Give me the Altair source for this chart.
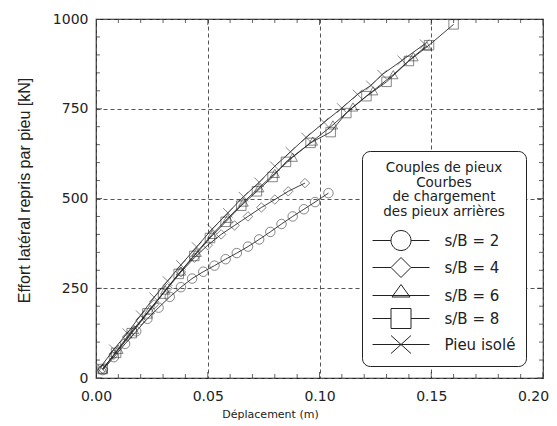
import altair as alt
import pandas as pd

series_names = ["s/B = 2", "s/B = 4", "s/B = 6", "s/B = 8", "Pieu isolé"]

# s/B = 2 (circles)
x_sb2 = [0.003, 0.008, 0.013, 0.018, 0.023, 0.028, 0.033, 0.038, 0.043, 0.048, 0.053,
         0.058, 0.063, 0.068, 0.073, 0.078, 0.083, 0.088, 0.093, 0.098, 0.104]
F_sb2 = [22, 58, 95, 130, 165, 196, 226, 253, 277, 296, 313,
         331, 348, 366, 386, 407, 429, 450, 470, 490, 515]

# s/B = 4 (diamonds)
x_sb4 = [0.003, 0.008, 0.014, 0.020, 0.026, 0.032, 0.038, 0.044, 0.050, 0.056, 0.062,
         0.068, 0.074, 0.080, 0.086, 0.0935]
F_sb4 = [25, 65, 115, 160, 205, 250, 295, 335, 370, 400, 425,
         450, 475, 497, 520, 543]

# s/B = 6 (triangles)
x_sb6 = [0.003, 0.010, 0.017, 0.024, 0.031, 0.038, 0.045, 0.052, 0.059, 0.066, 0.073,
         0.080, 0.088, 0.097, 0.106, 0.115, 0.124, 0.133, 0.142, 0.148]
F_sb6 = [25, 80, 135, 190, 245, 298, 350, 400, 445, 490, 530,
         570, 615, 660, 705, 755, 800, 845, 895, 925]

# s/B = 8 (squares)
x_sb8 = [0.003, 0.009, 0.016, 0.023, 0.030, 0.037, 0.044, 0.051, 0.058, 0.065, 0.072,
         0.079, 0.085, 0.096, 0.105, 0.112, 0.121, 0.130, 0.140, 0.149, 0.160]
F_sb8 = [25, 70, 125, 180, 235, 290, 340, 390, 435, 480, 520,
         560, 602, 655, 685, 738, 785, 825, 883, 927, 985]

# Pieu isolé (crosses)
x_iso = [0.002, 0.008, 0.014, 0.020, 0.026, 0.032, 0.038, 0.045, 0.052, 0.059, 0.066,
         0.073, 0.080, 0.087, 0.094, 0.102, 0.110, 0.117, 0.123, 0.128, 0.137, 0.147]
F_iso = [30, 80, 125, 175, 225, 270, 315, 365, 415, 460, 505,
         545, 590, 630, 670, 712, 752, 790, 815, 845, 885, 930]

x_ticks_major = [0.0, 0.05, 0.10, 0.15, 0.20]
x_ticks_minor = [0.01, 0.02, 0.03, 0.04, 0.06, 0.07, 0.08, 0.09,
                 0.11, 0.12, 0.13, 0.14, 0.16, 0.17, 0.18, 0.19]
y_ticks_major = [0, 250, 500, 750, 1000]
y_ticks_minor = [50, 100, 150, 200, 300, 350, 400, 450, 550, 600, 650, 700,
                 800, 850, 900, 950]

marker_shapes = ["circle", "diamond", "triangle-up", "square", "M-1,-1L1,1M-1,1L1,-1"]
marker_sizes = [90, 90, 100, 130, 144]
legend_shapes = [
    "M-2.85,0H-1M1,0H2.85M-1,0A1,1 0 1,0 1,0A1,1 0 1,0 -1,0",
    "M-2.85,0H-1M1,0H2.85M-1,0L0,-1L1,0L0,1Z",
    "M-2.85,0H2.85M-0.9,0.15L0,-1.1L0.9,0.15Z",
    "M-2.85,0H-1M1,0H2.85M-1,-1H1V1H-1Z",
    "M-2.85,0H2.85M-1,-0.9L1,0.9M-1,0.9L1,-0.9",
]

rows = []
for name, xs, fs in zip(series_names,
                        [x_sb2, x_sb4, x_sb6, x_sb8, x_iso],
                        [F_sb2, F_sb4, F_sb6, F_sb8, F_iso]):
    for i, (a, b) in enumerate(zip(xs, fs)):
        rows.append({"serie": name, "order": i, "d": a, "F": b})
df = pd.DataFrame(rows)

xscale = alt.Scale(domain=[0, 0.2], nice=False, zero=False)
yscale = alt.Scale(domain=[0, 1000], nice=False)

x_axis = alt.Axis(
    values=x_ticks_major, format=".2f", labelFlush=False, ticks=False, domain=False,
    grid=True, gridDash=[4, 3], gridColor="#555", gridWidth=1,
    labelFont="DejaVu Sans", labelFontSize=14, labelColor="#222", labelPadding=11,
    labelOffset={"condition": {"test": "datum.value >= 0.19", "value": -10}, "value": 0},
    title="Déplacement (m)", titleFont="DejaVu Sans", titleFontSize=11,
    titleFontWeight="normal", titleColor="#222", titleX=174, titleY=30,
    titleBaseline="top")
y_axis = alt.Axis(
    values=y_ticks_major, format="d", ticks=False, domain=False,
    grid=True, gridDash=[4, 3], gridColor="#555", gridWidth=1,
    labelFont="DejaVu Sans", labelFontSize=14, labelColor="#222", labelPadding=8,
    title="Effort latéral repris par pieu [kN]", titleFont="Liberation Sans",
    titleFontSize=16, titleFontWeight="normal", titleColor="#222",
    titleX=-72, titleY=171, titleAngle=-90, titleBaseline="middle", titleAlign="center")

base = alt.Chart(df)

lines = base.mark_line(color="#2a2a2a", strokeWidth=0.9).encode(
    x=alt.X("d:Q", scale=xscale, axis=x_axis),
    y=alt.Y("F:Q", scale=yscale, axis=y_axis),
    detail="serie:N",
    order="order:Q",
)

points = base.mark_point(filled=False, color="#2a2a2a", strokeWidth=0.8).encode(
    x=alt.X("d:Q", scale=xscale, axis=x_axis),
    y=alt.Y("F:Q", scale=yscale, axis=y_axis),
    shape=alt.Shape("serie:N", scale=alt.Scale(domain=series_names, range=marker_shapes), legend=None),
    size=alt.Size("serie:N", scale=alt.Scale(domain=series_names, range=marker_sizes), legend=None),
)

legend_layer = base.mark_point(filled=False, color="#222", opacity=0).encode(
    x=alt.X("d:Q", scale=xscale, axis=x_axis),
    y=alt.Y("F:Q", scale=yscale, axis=y_axis),
    shape=alt.Shape("serie:N", scale=alt.Scale(domain=series_names, range=legend_shapes),
                    legend=alt.Legend(
                        title=["Couples de pieux", "Courbes", "de chargement", "des pieux arrières"],
                        orient="none", legendX=266, legendY=132,
                        titleFont="DejaVu Sans", titleFontSize=13.5, titleFontWeight="normal",
                        titleColor="#222", titleAlign="center", titleAnchor="middle",
                        titleLineHeight=14.5, titlePadding=12,
                        labelFont="DejaVu Sans", labelFontSize=15, labelColor="#222",
                        labelOffset=33, symbolOffset=18.5,
                        symbolSize=400, symbolStrokeWidth=1, symbolStrokeColor="#222",
                        symbolFillColor="transparent", symbolOpacity=1,
                        strokeColor="#222", fillColor="white", cornerRadius=8,
                        padding=10, rowPadding=2,
                    )),
)

def tick_layer(values, size, channel_pos, fixed):
    if channel_pos == "x":
        data = pd.DataFrame({"d": values})
        return alt.Chart(data).mark_tick(orient="vertical", size=size, thickness=1,
                                         color="#222", clip=True).encode(
            x=alt.X("d:Q", scale=xscale, axis=x_axis),
            y=alt.Y(datum=fixed, scale=yscale, axis=y_axis))
    data = pd.DataFrame({"F": values})
    return alt.Chart(data).mark_tick(orient="horizontal", size=size, thickness=1,
                                     color="#222", clip=True).encode(
        y=alt.Y("F:Q", scale=yscale, axis=y_axis),
        x=alt.X(datum=fixed, scale=xscale, axis=x_axis))

ticks = [
    tick_layer(x_ticks_major, 12, "x", 0), tick_layer(x_ticks_minor, 8, "x", 0),
    tick_layer(x_ticks_major, 12, "x", 1000), tick_layer(x_ticks_minor, 8, "x", 1000),
    tick_layer(y_ticks_major, 12, "y", 0), tick_layer(y_ticks_minor, 8, "y", 0),
    tick_layer(y_ticks_major, 12, "y", 0.2), tick_layer(y_ticks_minor, 8, "y", 0.2),
]

chart = alt.layer(lines, points, *ticks, legend_layer).resolve_scale(
    shape="independent"
).properties(
    width=447, height=359,
    padding={"left": 88, "top": 11, "right": 6, "bottom": 47},
    autosize=alt.AutoSizeParams(type="none"),
    background="white",
).configure_view(stroke="#222", strokeWidth=1.2)

chart.save("out.html", embed_options={"renderer": "svg", "actions": False})
